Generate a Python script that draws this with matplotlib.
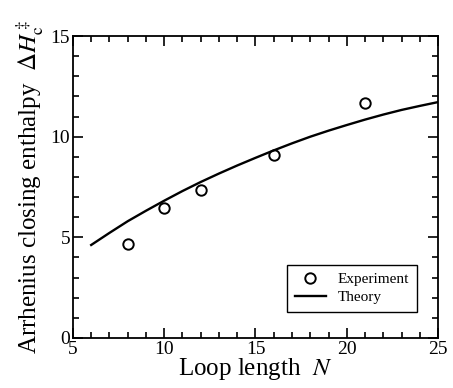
import matplotlib
matplotlib.use("Agg")
import matplotlib.pyplot as plt
from matplotlib.ticker import MultipleLocator

plt.rcParams['font.family'] = ['Liberation Serif', 'DejaVu Serif']
plt.rcParams['mathtext.fontset'] = 'stix'

# experiment points
exp_n = [8, 10, 12, 16, 21]
exp_h = [4.65, 6.45, 7.33, 9.1, 11.68]

# theory curve
theory_n = [6, 7, 8, 9, 10, 11, 12, 13, 14, 15, 16, 17, 18, 19, 20, 21, 22, 23, 24, 25]
theory_h = [4.62, 5.22, 5.8, 6.32, 6.82, 7.3, 7.75, 8.17, 8.57, 8.95,
            9.32, 9.67, 10.0, 10.3, 10.58, 10.85, 11.1, 11.33, 11.53, 11.72]

fig = plt.figure(figsize=(4.53, 3.88), dpi=100)
ax = fig.add_axes([0.161, 0.129, 0.806, 0.778])

ax.plot(exp_n, exp_h, 'o', mfc='white', mec='black', mew=1.4, ms=7.5, label='Experiment')
ax.plot(theory_n, theory_h, '-', color='black', lw=1.7, label='Theory')

ax.set_xlim(5, 25)
ax.set_ylim(0, 15)
ax.xaxis.set_major_locator(MultipleLocator(5))
ax.xaxis.set_minor_locator(MultipleLocator(1))
ax.yaxis.set_major_locator(MultipleLocator(5))
ax.yaxis.set_minor_locator(MultipleLocator(1))
ax.tick_params(which='both', direction='in', top=True, right=True, labelsize=14, width=1.2)
ax.tick_params(which='major', length=7, pad=2)
ax.tick_params(which='minor', length=4)
for s in ax.spines.values():
    s.set_linewidth(1.3)

ax.set_xlabel(r'Loop length  $\mathit{N}$', fontsize=18, labelpad=-1)
ax.set_ylabel(r'Arrhenius closing enthalpy  $\Delta\mathit{H}_{\mathrm{c}}^{\,\ddag}$', fontsize=18, labelpad=3)

leg = ax.legend(loc='lower right', bbox_to_anchor=(0.942, 0.086), borderaxespad=0, fontsize=11,
                frameon=True, fancybox=False, edgecolor='black', handlelength=2,
                borderpad=0.5, labelspacing=0.3, framealpha=1)
leg.get_frame().set_linewidth(1.0)

fig.savefig('out.png', dpi=100)
